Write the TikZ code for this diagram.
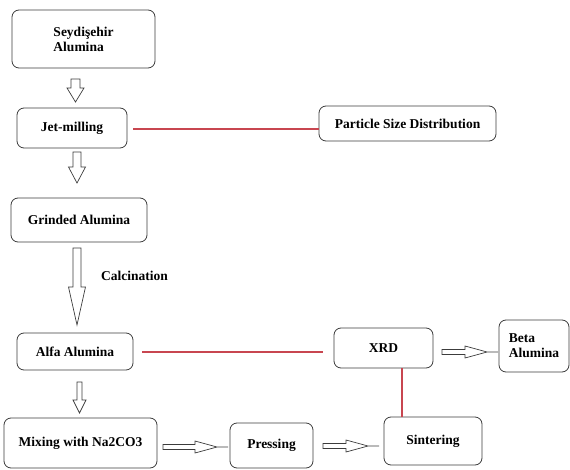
\documentclass[tikz,border=0pt]{standalone}
\usepackage{fontspec}
\setmainfont{Liberation Serif}[BoldFont={Liberation Serif Bold}]
\usetikzlibrary{calc}
\usetikzlibrary{positioning}
\definecolor{linkred}{RGB}{200,70,80}
\definecolor{boxgray}{RGB}{60,60,60}

\begin{document}
\begin{tikzpicture}[x=1pt, y=-1pt]
  \tikzset{stepbox/.style={draw=boxgray, line width=0.8pt, rounded corners=7pt, inner sep=0pt, outer sep=0pt,
      font=\fontsize{13.5}{15}\selectfont\bfseries, align=left},
    link/.style={draw=linkred, line width=1.2pt},
    % hollow block arrows: #1 shaft half width, #2 head half width, #3 head length
    hollowdown/.style n args={3}{draw=boxgray, line width=0.7pt, to path={let \p1=(\tikztostart), \p2=(\tikztotarget) in
      ({\x2-#1pt},\y1) -- ({\x2+#1pt},\y1) -- ({\x2+#1pt},{\y2+#3pt}) -- ({\x2+#2pt},{\y2+#3pt}) -- (\x2,\y2)
      -- ({\x2-#2pt},{\y2+#3pt}) -- ({\x2-#1pt},{\y2+#3pt}) -- cycle}},
    hollowright/.style={draw=boxgray, line width=0.7pt, to path={let \p1=(\tikztostart), \p2=(\tikztotarget) in
      (\x1,{\y1+2.5pt}) -- ({\x2-33pt},{\y1+2.5pt}) -- ({\x2-33pt},{\y1+6pt}) -- ({\x2-11pt},\y1)
      -- ({\x2-33pt},{\y1-6pt}) -- ({\x2-33pt},{\y1-2.5pt}) -- (\x1,{\y1-2.5pt}) -- cycle
      ({\x2-11pt},\y1) -- (\x2,\y1)}}}

  \useasboundingbox (0,0) rectangle (570,470);

  \node[stepbox, minimum width=143pt, minimum height=58pt] (seyd) at (83.5,39) {Seydişehir\\Alumina};
  \node[stepbox, minimum width=110pt, minimum height=40pt] (jet) at (72,128) {Jet-milling};
  \node[stepbox, minimum width=136pt, minimum height=44pt] (grind) at (79,220) {Grinded Alumina};
  \node[stepbox, minimum width=116pt, minimum height=37pt] (alfa) at (75,351.5) {Alfa Alumina};
  \node[stepbox, minimum width=153pt, minimum height=50pt] (mix) at (80.5,443) {Mixing with Na2CO3};
  \node[stepbox, minimum width=83pt, minimum height=45pt] (press) at (271.5,445.5) {Pressing};
  \node[stepbox, minimum width=98pt, minimum height=48pt] (sinter) at (433,441) {Sintering};
  \node[stepbox, minimum width=99pt, minimum height=40pt] (xrd) at (383.5,348) {XRD};
  \node[stepbox, minimum width=70pt, minimum height=52pt] (beta) at (534,346) {Beta\\Alumina};
  \node[stepbox, minimum width=177pt, minimum height=35pt] (psd) at (407.5,123.5) {Particle Size Distribution};
  \node[font=\fontsize{13.5}{15}\selectfont\bfseries] (calc) at (134.5,276) {Calcination};

  % main line, downwards
  \draw[hollowdown={4.5}{8.5}{14}] ([yshift=-11pt]seyd.south) to ([xshift=3.5pt,yshift=6pt]jet.north);
  \draw[hollowdown={4}{8.5}{16}] ([yshift=-4pt]jet.south) to ([xshift=-2pt,yshift=15pt]grind.north);
  \draw[hollowdown={4}{8.5}{38}] ([yshift=-6pt]grind.south) to ([xshift=2pt,yshift=8pt]alfa.north);
  \draw[hollowdown={2.5}{6.5}{13}] ([yshift=-12pt]alfa.south) to ([xshift=-1pt,yshift=5pt]mix.north);

  % then to the right
  \draw[hollowright] ([xshift=6pt,yshift=-4pt]mix.east) to ([xshift=-2pt,yshift=-4pt]press.west);
  \draw[hollowright] ([xshift=10pt,yshift=-0.5pt]press.east) to ([xshift=-5pt,yshift=4pt]sinter.west);
  \draw[hollowright] ([xshift=9pt,yshift=-4pt]xrd.east) to ([xshift=-1pt,yshift=-6pt]beta.west);

  % analysis links
  \draw[link, shorten <=6pt] ([yshift=-1pt]jet.east) -- ([yshift=-1pt]jet.east -| psd.west);
  \draw[link, shorten <=9pt, shorten >=11pt] ([yshift=-0.5pt]alfa.east) -- ([yshift=-0.5pt]alfa.east -| xrd.west);
  \draw[link] ([xshift=18.5pt]xrd.south) -- ([xshift=18.5pt]xrd.south |- sinter.north);
\end{tikzpicture}
\end{document}
